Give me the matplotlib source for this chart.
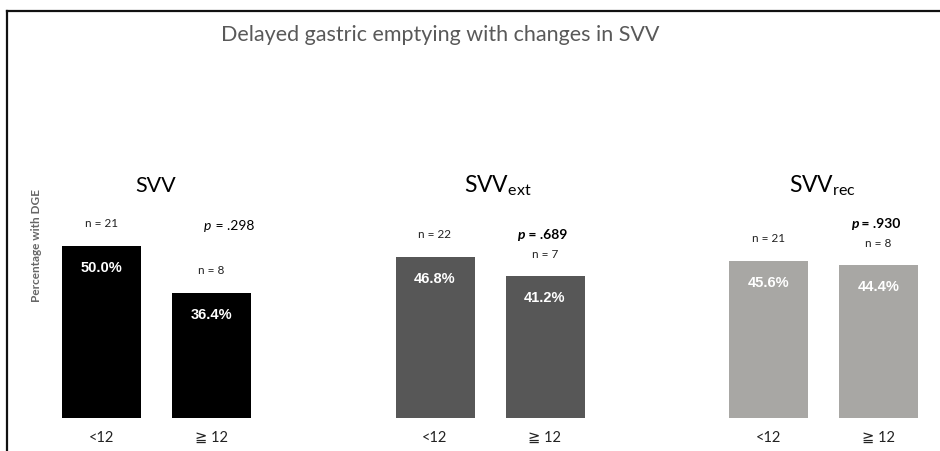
import numpy as np
import matplotlib
matplotlib.use('Agg')
import matplotlib.pyplot as plt
from matplotlib.lines import Line2D

plt.rcParams['font.family'] = ['Lato', 'DejaVu Sans']
plt.rcParams['mathtext.fontset'] = 'custom'
plt.rcParams['mathtext.rm'] = 'Lato'
plt.rcParams['mathtext.it'] = 'Lato:italic'

# data
groups = ['SVV', r'SVV$_{\mathrm{ext}}$', r'SVV$_{\mathrm{rec}}$']
categories = ['<12', '\u2267 12']
pct_low = [50.0, 46.8, 45.6]
pct_high = [36.4, 41.2, 44.4]
n_low = [21, 22, 21]
n_high = [8, 7, 8]
p_values = ['.298', '.689', '.930']
p_bold = [False, True, True]
colors = ['#000000', '#575757', '#a8a7a4']

W, H = 940, 451
fig = plt.figure(figsize=(W / 100, H / 100), dpi=100)
fig.patch.set_facecolor('white')

# one axes over the whole figure, x in pixels, y in percent
px_per_pct = 3.44
base_px = 418
ax = fig.add_axes([0, 0, 1, 1])
ax.set_xlim(0, W)
ax.set_ylim(-(H - base_px) / px_per_pct, base_px / px_per_pct)
ax.axis('off')


def fx(x):
    return x / W


def fy(y):
    return 1 - y / H


# frame lines (top and left only)
fig.add_artist(Line2D([fx(7), 1], [fy(11), fy(11)], color='#111111', lw=1.6))
fig.add_artist(Line2D([fx(7), fx(7)], [fy(11), 0], color='#111111', lw=1.6))

fig.text(fx(440), fy(35), 'Delayed gastric emptying with changes in SVV',
         ha='center', va='center', fontsize=15.5, color='#595959')

fig.text(fx(37), fy(245), 'Percentage with DGE', rotation=90, ha='center', va='center',
         fontsize=8.5, fontweight='bold', color='#666666')

first_x = [101.5, 435, 768.5]
title_x = [156, 498, 823]
step = 110
bar_w = 79
text_c = '#222222'

for g in range(3):
    xs = [first_x[g], first_x[g] + step]
    vals = [pct_low[g], pct_high[g]]
    ns = [n_low[g], n_high[g]]
    ax.bar(xs, vals, width=bar_w, color=colors[g])
    fig.text(fx(title_x[g]), fy(192), groups[g], ha='center', va='baseline',
             fontsize=15.5 if g == 0 else 16.5, color='black')
    for x, v, n, lab in zip(xs, vals, ns, categories):
        ax.annotate(f'{v:.1f}%', (x, v), xytext=(0, -16), textcoords='offset points',
                    ha='center', va='center', fontsize=10.5, fontweight='bold',
                    color='white', family='Liberation Sans')
        ax.annotate(f'n = {n}', (x, v), xytext=(0, 16), textcoords='offset points',
                    ha='center', va='center', fontsize=8.5, color=text_c)
        ax.text(x, -20 / px_per_pct, lab, ha='center', va='center', fontsize=10.5,
                color=text_c)

    # p value label, italic p
    weight = 'bold' if p_bold[g] else 'normal'
    if p_bold[g]:
        px_pos = xs[1] - 20
        py = vals[1] + 41 / px_per_pct
    else:
        px_pos = xs[1] + 0
        py = vals[1] + 67 / px_per_pct
    tp = ax.text(px_pos, py, 'p', ha='right', va='center', fontsize=10,
                 fontstyle='italic', fontweight=weight, color='black')
    ax.annotate(f' = {p_values[g]}', xy=(1, 0), xycoords=tp, ha='left', va='bottom',
                fontsize=10, fontweight=weight, color='black')

fig.savefig('out.png', dpi=100, facecolor='white')
